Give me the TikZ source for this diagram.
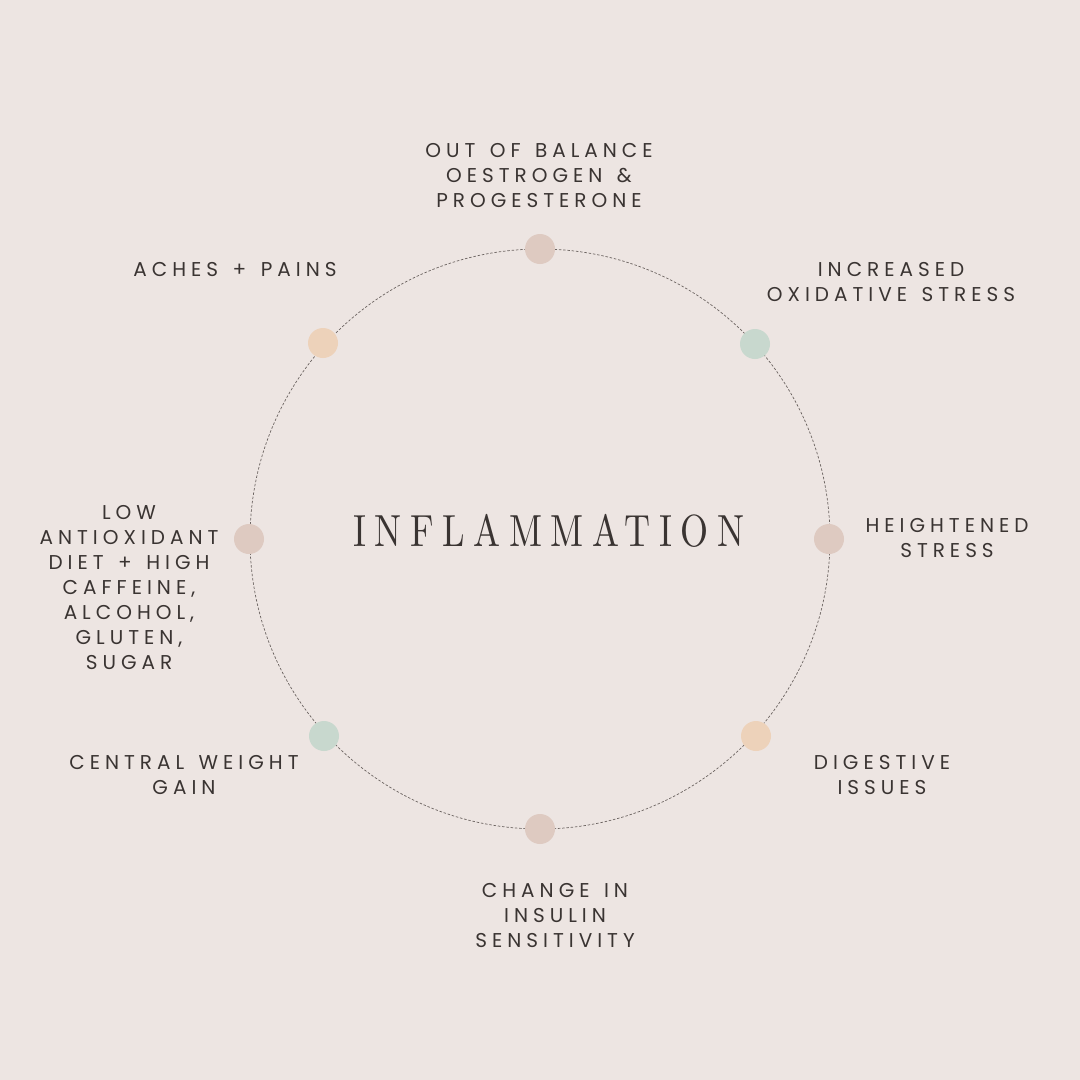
\documentclass[tikz,border=0pt]{standalone}
\usepackage{fontspec}
\newfontfamily\labelfont{Poppins}[LetterSpace=25,WordSpace=1.4]
\newfontfamily\titlefont{lmroman10-regular.otf}[FakeStretch=0.8,LetterSpace=19]
\definecolor{bgcol}{HTML}{EDE5E2}
\definecolor{txtcol}{HTML}{3A3432}
\definecolor{dotrose}{HTML}{DECAC1}
\definecolor{dotsage}{HTML}{C8D8CE}
\definecolor{dotpeach}{HTML}{EDD2BA}
\definecolor{ringcol}{HTML}{6B6360}
\tikzset{
  dotnode/.style={circle,inner sep=0pt,minimum size=30pt,fill=#1},
  lbl/.style={align=center,inner sep=0pt,text=txtcol,font=\labelfont\fontsize{20}{25}\selectfont},
  ring/.style={draw=ringcol,line width=0.7pt,dash pattern=on 2.5pt off 1.8pt}
}
\begin{document}
\begin{tikzpicture}[x=1pt,y=-1pt]
\fill[bgcol] (0,0) rectangle (1080,1080);
\useasboundingbox (0,0) rectangle (1080,1080);
\coordinate (c) at (540,539);
\draw[ring] (c) circle[radius=290pt];
\node[dotnode=dotrose] (dtop) at (540,249) {};
\node[dotnode=dotsage] (dtr) at (755,344) {};
\node[dotnode=dotrose] (dr) at (829,539) {};
\node[dotnode=dotpeach] (dbr) at (756,736) {};
\node[dotnode=dotrose] (db) at (540,829) {};
\node[dotnode=dotsage] (dbl) at (324,736) {};
\node[dotnode=dotrose] (dl) at (249,539) {};
\node[dotnode=dotpeach] (dtl) at (323,343) {};
\node[text=txtcol,inner sep=0pt,font=\titlefont\fontsize{45}{50}\selectfont] (title) at (549,531) {INFLAMMATION};
\node[lbl] (ltop) at (539,176) {OUT OF BALANCE\\OESTROGEN \&\\PROGESTERONE};
\node[lbl] (ltl) at (235,270) {ACHES + PAINS};
\node[lbl] (ltr) at (891,282.5) {INCREASED\\OXIDATIVE STRESS};
\node[lbl] (lr) at (947,538.5) {HEIGHTENED\\STRESS};
\node[lbl] (ll) at (129,588) {LOW\\ANTIOXIDANT\\DIET + HIGH\\CAFFEINE,\\ALCOHOL,\\GLUTEN,\\SUGAR};
\node[lbl] (lbl) at (184,774.5) {CENTRAL WEIGHT\\GAIN};
\node[lbl] (lbr) at (882,774.5) {DIGESTIVE\\ISSUES};
\node[lbl] (lb) at (555,915) {CHANGE IN\\INSULIN\\SENSITIVITY};
\end{tikzpicture}
\end{document}
